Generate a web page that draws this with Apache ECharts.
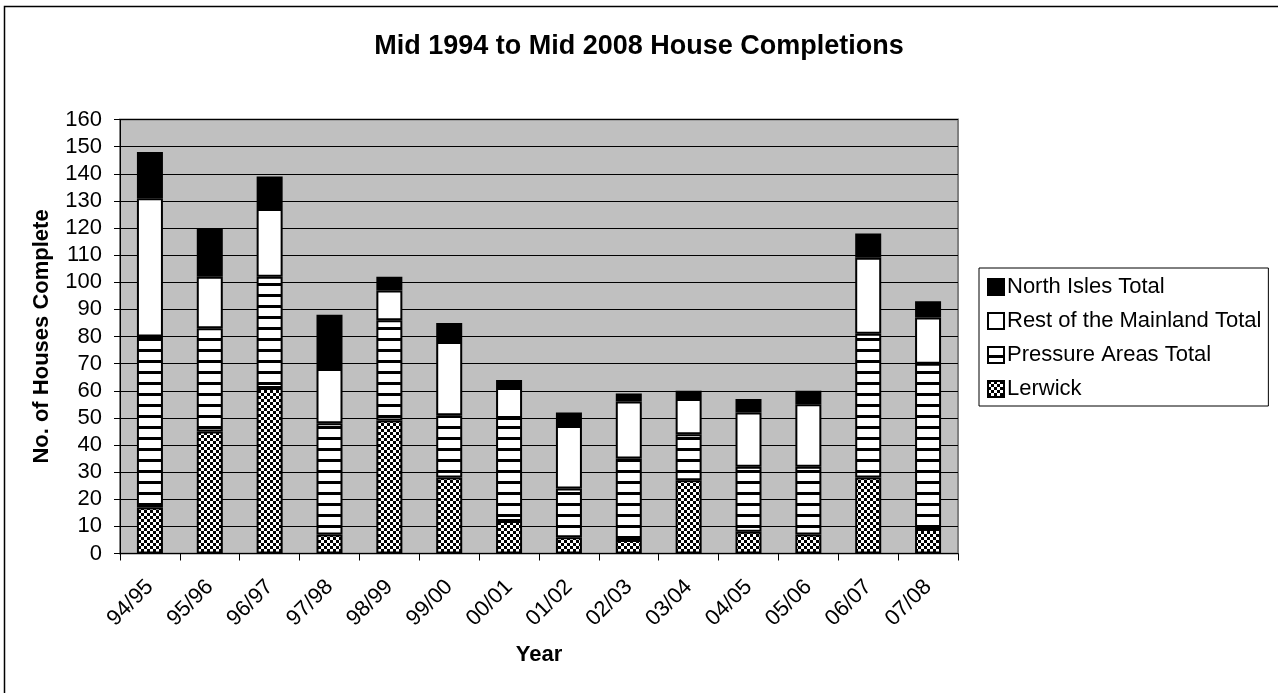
<!DOCTYPE html>
<html>
<head>
<meta charset="utf-8">
<title>Mid 1994 to Mid 2008 House Completions</title>
<script src="https://cdn.jsdelivr.net/npm/echarts@6/dist/echarts.min.js"></script>
<style>
  html, body { margin: 0; padding: 0; background: #fff; }
  #chart { width: 1278px; height: 693px; }
</style>
</head>
<body>
<div id="chart"></div>
<script>
const years = ['94/95', '95/96', '96/97', '97/98', '98/99', '99/00', '00/01', '01/02', '02/03', '03/04', '04/05', '05/06', '06/07', '07/08']
const lerwick = [17, 45, 61, 7, 49, 28, 12, 6, 5, 27, 8, 7, 28, 9]
const pressureAreas = [63, 38, 41, 41, 37, 23, 38, 18, 30, 17, 24, 25, 53, 61]
const restOfMainland = [51, 19, 25, 20, 11, 27, 11, 23, 21, 13, 20, 23, 28, 17]
const northIsles = [17, 18, 12, 20, 5, 7, 3, 5, 3, 3, 5, 5, 9, 6]
const legendOrder = ['North Isles Total', 'Rest of the Mainland Total', 'Pressure Areas Total', 'Lerwick']

const FONT = '"Liberation Sans", Arial, sans-serif'

// fill patterns like the old Excel b/w chart
const makeChecker = () => {
  const c = document.createElement('canvas')
  c.width = 6; c.height = 6
  const g = c.getContext('2d')
  g.fillStyle = '#fff'; g.fillRect(0, 0, 6, 6)
  g.fillStyle = '#000'
  g.fillRect(0, 0, 3, 3); g.fillRect(3, 3, 3, 3)
  return c
}
const makeStripes = () => {
  const c = document.createElement('canvas')
  c.width = 4; c.height = 11
  const g = c.getContext('2d')
  g.fillStyle = '#fff'; g.fillRect(0, 0, 4, 11)
  g.fillStyle = '#000'; g.fillRect(0, 8, 4, 3)
  return c
}

const barStyle = (color) => ({ color, borderColor: '#000', borderWidth: 2 })

const mkSeries = (name, data, color) => ({
  name,
  type: 'bar',
  stack: 'total',
  barWidth: 26,
  data,
  itemStyle: barStyle(color),
  emphasis: { disabled: true }
})

const chart = echarts.init(document.getElementById('chart'))

chart.setOption({
  animation: false,
  backgroundColor: '#fff',
  title: {
    text: 'Mid 1994 to Mid 2008 House Completions',
    left: 'center',
    top: 28,
    textStyle: { fontFamily: FONT, fontSize: 27, fontWeight: 'bold', color: '#000' }
  },
  graphic: [{
    type: 'rect',
    shape: { x: 4.5, y: 6.5, width: 1290, height: 700 },
    style: { fill: 'none', stroke: '#000', lineWidth: 1.5 },
    silent: true
  }],
  legend: {
    orient: 'vertical',
    left: 979,
    top: 268,
    data: legendOrder,
    itemWidth: 16,
    itemHeight: 16,
    itemGap: 12,
    padding: [8, 7, 6, 8],
    borderColor: '#000',
    borderWidth: 1,
    icon: 'rect',
    selectedMode: false,
    textStyle: { fontFamily: FONT, fontSize: 22, color: '#000', padding: [0, 0, 0, -2] }
  },
  grid: {
    left: 120,
    right: 320,
    top: 119.5,
    bottom: 139.5,
    show: true,
    backgroundColor: '#c0c0c0',
    borderColor: '#808080',
    borderWidth: 2
  },
  xAxis: {
    type: 'category',
    data: years,
    name: 'Year',
    nameLocation: 'middle',
    nameGap: 90,
    nameTextStyle: { fontFamily: FONT, fontSize: 22, fontWeight: 'bold', color: '#000' },
    axisLine: { lineStyle: { color: '#000', width: 1 } },
    axisTick: { show: true, length: 7, lineStyle: { color: '#000' } },
    axisLabel: { rotate: 45, margin: 30, fontFamily: FONT, fontSize: 22, color: '#000' }
  },
  yAxis: {
    type: 'value',
    min: 0,
    max: 160,
    interval: 10,
    name: 'No. of Houses Complete',
    nameLocation: 'middle',
    nameRotate: 90,
    nameGap: 67,
    nameTextStyle: { fontFamily: FONT, fontSize: 22, fontWeight: 'bold', color: '#000' },
    axisLine: { show: true, lineStyle: { color: '#000', width: 1 } },
    axisTick: { show: true, length: 6, lineStyle: { color: '#000' } },
    axisLabel: { margin: 18, fontFamily: FONT, fontSize: 22, color: '#000' },
    splitLine: { show: true, lineStyle: { color: '#000', width: 1 } }
  },
  series: [
    mkSeries('Lerwick', lerwick, { image: makeChecker(), repeat: 'repeat' }),
    mkSeries('Pressure Areas Total', pressureAreas, { image: makeStripes(), repeat: 'repeat' }),
    mkSeries('Rest of the Mainland Total', restOfMainland, '#fff'),
    mkSeries('North Isles Total', northIsles, '#000')
  ]
})
</script>
</body>
</html>
